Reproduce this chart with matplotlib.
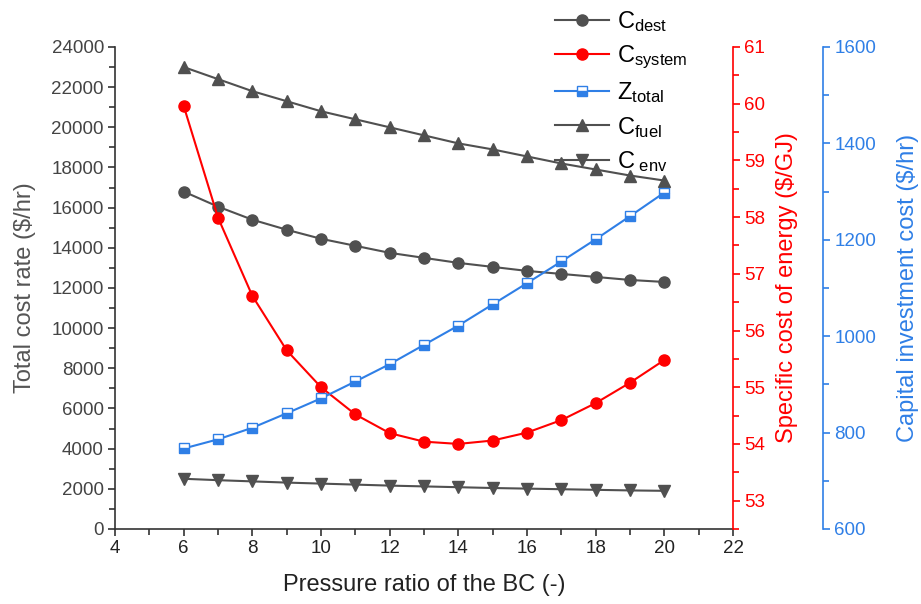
import numpy as np
import matplotlib
matplotlib.use("Agg")
import matplotlib.pyplot as plt
from matplotlib.ticker import MultipleLocator

plt.rcParams['font.family'] = ['Liberation Sans', 'DejaVu Sans']
plt.rcParams['mathtext.fontset'] = 'custom'
plt.rcParams['mathtext.rm'] = 'Liberation Sans'
plt.rcParams['mathtext.it'] = 'Liberation Sans'

# pressure ratio
pr = [6, 7, 8, 9, 10, 11, 12, 13, 14, 15, 16, 17, 18, 19, 20]
# left axis ($/hr)
c_dest = [16800, 16050, 15400, 14900, 14450, 14100, 13750, 13500, 13250, 13050, 12850, 12700, 12550, 12400, 12300]
c_fuel = [23000, 22400, 21800, 21300, 20800, 20400, 20000, 19600, 19200, 18900, 18550, 18200, 17900, 17600, 17350]
c_env = [2500, 2430, 2370, 2310, 2260, 2210, 2160, 2120, 2080, 2040, 2010, 1980, 1950, 1920, 1900]
# red axis ($/GJ)
c_system = [59.96, 57.99, 56.61, 55.65, 55.0, 54.52, 54.19, 54.04, 54.0, 54.06, 54.2, 54.42, 54.72, 55.08, 55.48]
# blue axis ($/hr)
z_total = [767, 786, 810, 840, 871, 906, 942, 982, 1022, 1066, 1110, 1155, 1201, 1249, 1298]

gray = '#505050'
red = '#ff0000'
blue = '#2f7fe6'

fig = plt.figure(figsize=(9.21, 6.04), dpi=100)
ax = fig.add_axes([0.1249, 0.1242, 0.671, 0.798])
ax2 = ax.twinx()
ax3 = ax.twinx()
ax3.spines['right'].set_position(('outward', 65))

l1, = ax.plot(pr, c_dest, '-o', color=gray, ms=8, lw=1.5)
l4, = ax.plot(pr, c_fuel, '-^', color=gray, ms=8.5, lw=1.5)
l5, = ax.plot(pr, c_env, '-v', color=gray, ms=8.5, lw=1.5)
l2, = ax2.plot(pr, c_system, '-o', color=red, ms=8, lw=1.5)
l3, = ax3.plot(pr, z_total, '-s', color=blue, ms=6.5, lw=1.5, fillstyle='bottom',
               markerfacecoloralt='white', markeredgecolor=blue)

ax.set_xlim(4, 22)
ax.set_ylim(0, 24000)
ax2.set_ylim(52.5, 61)
ax3.set_ylim(600, 1600)

ax.xaxis.set_major_locator(MultipleLocator(2))
ax.xaxis.set_minor_locator(MultipleLocator(1))
ax.yaxis.set_major_locator(MultipleLocator(2000))
ax.yaxis.set_minor_locator(MultipleLocator(1000))
ax2.yaxis.set_major_locator(MultipleLocator(1))
ax2.yaxis.set_minor_locator(MultipleLocator(0.5))
ax3.yaxis.set_major_locator(MultipleLocator(200))
ax3.yaxis.set_minor_locator(MultipleLocator(100))

for a in (ax, ax2, ax3):
    a.spines['top'].set_visible(False)
    a.tick_params(which='major', length=5, width=1.2, labelsize=13.5, pad=3)
    a.tick_params(which='minor', length=4, width=1.2)

ax.spines['right'].set_visible(False)
ax.spines['left'].set_color('#333333')
ax.spines['bottom'].set_color('#333333')
ax.spines['left'].set_linewidth(1.2)
ax.spines['bottom'].set_linewidth(1.2)
ax.tick_params(axis='y', which='both', colors='#333333', labelcolor='#444444')
ax.tick_params(axis='x', which='both', colors='#333333', labelcolor='#222222')

for a, c in ((ax2, red), (ax3, blue)):
    for s in ('left', 'bottom'):
        a.spines[s].set_visible(False)
    a.spines['right'].set_color(c)
    a.spines['right'].set_linewidth(1.2)
    a.tick_params(axis='y', which='both', colors=c)

ax.set_xlabel('Pressure ratio of the BC (-)', fontsize=17, color='#222222', labelpad=12)
ax.set_ylabel('Total cost rate ($/hr)', fontsize=17, color='#555555', labelpad=11)
ax2.set_ylabel('Specific cost of energy ($/GJ)', fontsize=17, color=red, labelpad=8)
ax3.set_ylabel('Capital investment cost ($/hr)', fontsize=17, color=blue, labelpad=15)

fig.legend([l1, l2, l3, l4, l5],
           [r'C$_{\mathrm{dest}}$', r'C$_{\mathrm{system}}$', r'Z$_{\mathrm{total}}$',
            r'C$_{\mathrm{fuel}}$', r'C$_{\ \mathrm{env}}$'],
           loc='upper left', bbox_to_anchor=(0.580, 1.02), frameon=False,
           fontsize=17, handlelength=2.25, handletextpad=0.35, labelspacing=0.4)

fig.savefig('out.png', dpi=100)
